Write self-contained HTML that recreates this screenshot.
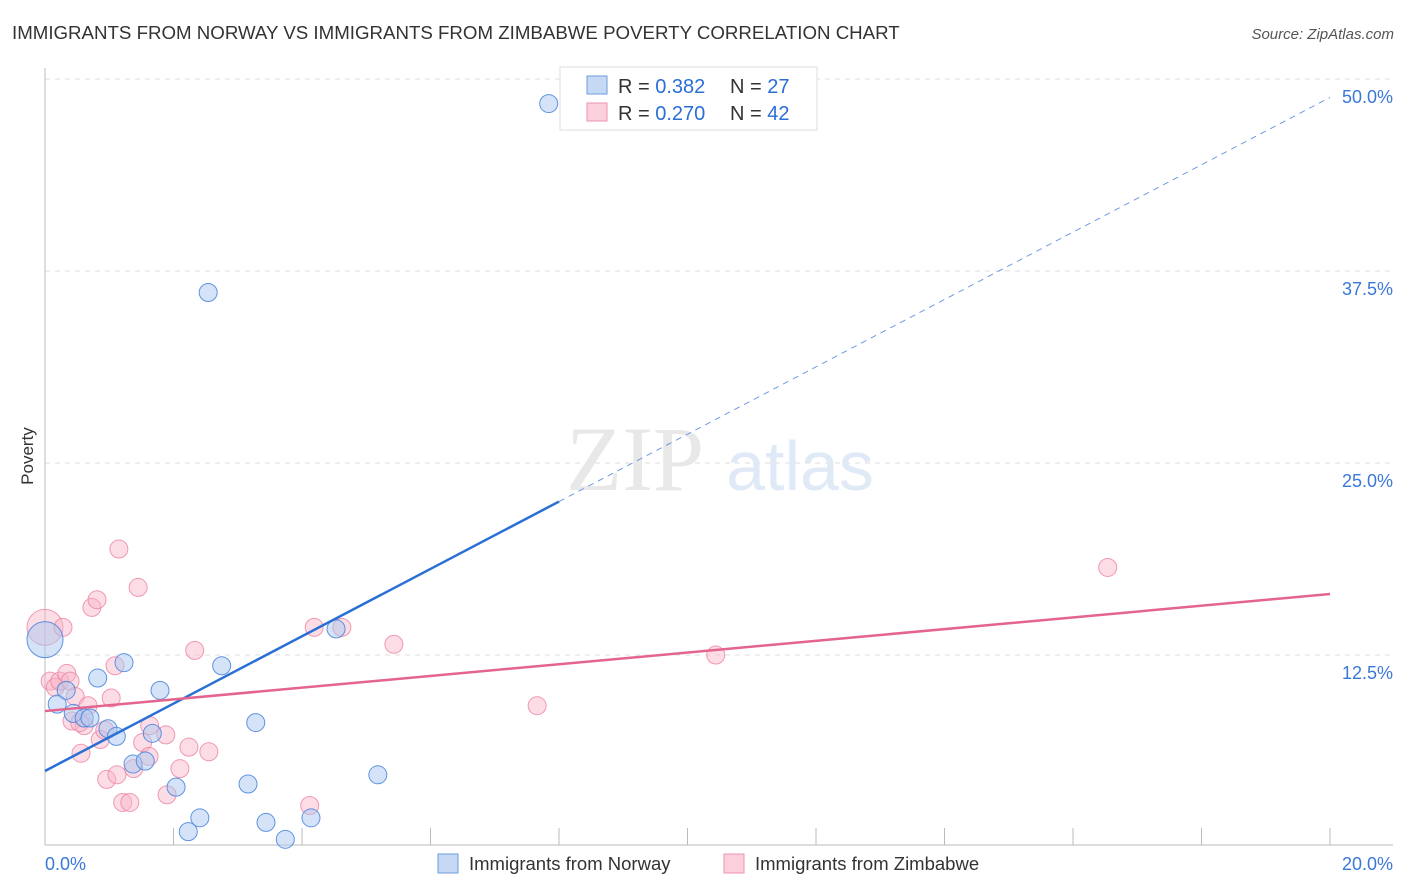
<!DOCTYPE html>
<html><head><meta charset="utf-8"><style>
body{margin:0;background:#fff;font-family:"Liberation Sans",sans-serif;}
svg{display:block}
</style></head><body>
<svg width="1406" height="892" xmlns="http://www.w3.org/2000/svg" id="chart">
<text x="12" y="39" font-size="18.7" fill="#333">IMMIGRANTS FROM NORWAY VS IMMIGRANTS FROM ZIMBABWE POVERTY CORRELATION CHART</text>
<text x="1394" y="39" font-size="15" fill="#555" font-style="italic" text-anchor="end">Source: ZipAtlas.com</text>
<text x="33" y="456" font-size="17" fill="#333" transform="rotate(-90 33 456)" text-anchor="middle">Poverty</text>
<g id="grid"></g>
<text x="635" y="490" font-size="92" font-family="Liberation Serif,serif" fill="#e8e8e8" text-anchor="middle">ZIP</text>
<text x="800" y="490" font-size="70" fill="#e0eaf7" text-anchor="middle">atlas</text>
<g id="marks"></g>
<g>
<rect x="560" y="67" width="257" height="63" fill="#fff" stroke="#ddd"/>
<rect x="587" y="76" width="20" height="18" fill="#c5d9f5" stroke="#6f9be0"/>
<rect x="587" y="103" width="20" height="18" fill="#fbd0dc" stroke="#ee93ad"/>
<text x="618" y="93" font-size="20" fill="#333">R = <tspan fill="#2a6fd6">0.382</tspan></text>
<text x="730" y="93" font-size="20" fill="#333">N = <tspan fill="#2a6fd6">27</tspan></text>
<text x="618" y="120" font-size="20" fill="#333">R = <tspan fill="#2a6fd6">0.270</tspan></text>
<text x="730" y="120" font-size="20" fill="#333">N = <tspan fill="#2a6fd6">42</tspan></text>
</g>
<g>
<rect x="438" y="854" width="20" height="19" fill="#c5d9f5" stroke="#6f9be0"/>
<text x="469" y="870" font-size="18.5" fill="#333">Immigrants from Norway</text>
<rect x="724" y="854" width="20" height="19" fill="#fbd0dc" stroke="#ee93ad"/>
<text x="755" y="870" font-size="18.5" fill="#333">Immigrants from Zimbabwe</text>
</g>
</svg>
<script>
const yTicks=[12.5,25,37.5,50];
const yTickLabels=["12.5%","25.0%","37.5%","50.0%"];
const xTicks=[0,2,4,6,8,10,12,14,16,18,20];
const norwayX=[7.84,2.54,0,0.19,0.33,0.44,0.61,0.7,0.82,0.98,1.11,1.23,1.37,1.56,1.67,1.79,2.04,2.23,2.41,2.75,3.16,3.28,3.44,3.74,4.14,4.53,5.18];
const norwayY=[48.4,36.1,13.5,9.3,10.2,8.7,8.4,8.4,11.0,7.7,7.2,12.0,5.4,5.6,7.4,10.2,3.9,1.0,1.9,11.8,4.1,8.1,1.6,0.5,1.9,14.2,4.7];
const norwaySize=[9,9,18,9,9,9,9,9,9,9,9,9,9,9,9,9,9,9,9,9,9,9,9,9,9,9,9];
const zimX=[0,0.08,0.16,0.23,0.28,0.34,0.39,0.42,0.47,0.56,0.61,0.67,0.73,0.81,0.86,0.93,0.96,1.03,1.09,1.12,1.15,1.21,1.32,1.38,1.45,1.52,1.62,1.88,1.9,2.1,2.24,2.33,2.55,4.12,4.19,4.62,5.43,7.66,10.44,16.54,0.54,1.63];
const zimY=[14.3,10.8,10.4,10.8,14.3,11.3,10.8,8.2,9.8,6.1,7.9,9.2,15.6,16.1,7.0,7.6,4.4,9.7,11.8,4.7,19.4,2.9,2.9,5.1,16.9,6.8,5.9,7.3,3.4,5.1,6.5,12.8,6.2,2.7,14.3,14.3,13.2,9.2,12.5,18.2,8.1,7.9];
const zimSize=[18,9,9,9,9,9,9,9,9,9,9,9,9,9,9,9,9,9,9,9,9,9,9,9,9,9,9,9,9,9,9,9,9,9,9,9,9,9,9,9,9,9];
const norwayTrend=[4.95,48.8];
const zimTrend=[8.85,16.47];
const X0=45,X1=1330,YB=847,PX=192/12.5;
const sx=v=>X0+(v/20)*(X1-X0);
const sy=v=>YB-v*PX;
const NS="http://www.w3.org/2000/svg";
function mk(parent,tag,attrs){const e=document.createElementNS(NS,tag);for(const k in attrs)e.setAttribute(k,attrs[k]);document.getElementById(parent).appendChild(e);return e;}
yTicks.forEach((t,i)=>{
 const l=mk('grid','line',{x1:45,x2:1393,y1:sy(t),y2:sy(t),stroke:'#ddd','stroke-dasharray':'5,5'});
 
 
 const tx=mk('grid','text',{x:1393,y:sy(t)+24,'font-size':18,fill:'#3a78d8','text-anchor':'end'});
 tx.textContent=yTickLabels[i];
 
 
});
const ax=mk('grid','line',{x1:45,x2:45,y1:68,y2:845,stroke:'#bbb'});


const bx=mk('grid','line',{x1:45,x2:1393,y1:845,y2:845,stroke:'#bbb'});


xTicks.forEach(t=>{
 const l=mk('grid','line',{x1:sx(t),x2:sx(t),y1:828,y2:845,stroke:'#bbb'});
 
 
});
const xl0=mk('grid','text',{x:45,y:870,'font-size':18,fill:'#3a78d8'});xl0.textContent='0.0%';


const xl1=mk('grid','text',{x:1393,y:870,'font-size':18,fill:'#3a78d8','text-anchor':'end'});xl1.textContent='20.0%';


zimX.forEach((x,i)=>{
 const c=mk('marks','circle',{cx:sx(x),cy:sy(zimY[i]),r:zimSize[i],fill:'rgba(248,180,200,0.45)',stroke:'rgba(236,130,160,0.8)','stroke-width':1});
 
 
});
norwayX.forEach((x,i)=>{
 const c=mk('marks','circle',{cx:sx(x),cy:sy(norwayY[i]),r:norwaySize[i],fill:'rgba(170,200,240,0.5)',stroke:'rgba(70,130,220,0.85)','stroke-width':1});
 
 
});
const nb=v=>norwayTrend[0]+(norwayTrend[1]-norwayTrend[0])*v/20;
const xs=8;
const t1=mk('marks','line',{x1:sx(0),y1:sy(nb(0)),x2:sx(xs),y2:sy(nb(xs)),stroke:'#2a6fd6','stroke-width':2.5});


const t2=mk('marks','line',{x1:sx(xs),y1:sy(nb(xs)),x2:sx(20),y2:sy(nb(20)),stroke:'#6f9be0','stroke-width':1,'stroke-dasharray':'6,5'});


const t3=mk('marks','line',{x1:sx(0),y1:sy(zimTrend[0]),x2:sx(20),y2:sy(zimTrend[1]),stroke:'#e4648e','stroke-width':2.5});


</script>
</body></html>
